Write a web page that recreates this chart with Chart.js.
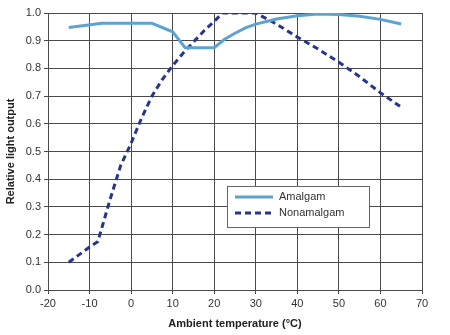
<!DOCTYPE html>
<html><head><meta charset="utf-8">
<script src="https://cdn.jsdelivr.net/npm/chart.js@4"></script>
<style>html,body{margin:0;padding:0;background:#fff}#w{width:450px;height:335px}</style>
</head><body><div id="w"><canvas id="c"></canvas></div>
<script>
const seriesNames = ["Amalgam", "Nonamalgam"];
const amalgamTemp = [-15, -7, 5, 10, 13, 20, 22.5, 25, 27.5, 30, 35, 40, 45, 50, 55, 60, 65];
const amalgamOutput = [0.948, 0.963, 0.963, 0.932, 0.875, 0.875, 0.905, 0.927, 0.946, 0.960, 0.978, 0.990, 0.996, 0.995, 0.988, 0.977, 0.960];
const nonamalgamTemp = [-15, -10, -8, -5, -2.5, 0, 2.5, 5, 7.5, 10, 12.5, 15, 17.5, 20, 22, 30, 35, 40, 45, 50, 55, 60, 65];
const nonamalgamOutput = [0.10, 0.155, 0.175, 0.33, 0.45, 0.53, 0.62, 0.70, 0.76, 0.81, 0.855, 0.895, 0.935, 0.97, 1.0, 1.0, 0.96, 0.913, 0.87, 0.822, 0.77, 0.712, 0.66];
const xTitle = "Ambient temperature (°C)";
const yTitle = "Relative light output";

const toPts = (xs, ys) => xs.map((x, i) => ({x: x, y: ys[i]}));
const gridCol = '#4a4a4a';
const colA = '#5da2d0', colN = '#27358a';

const legendPlugin = {
  id: 'boxLegend',
  afterDraw(chart) {
    const ctx = chart.ctx;
    const x0 = 227, y0 = 186, w = 142, h = 41;
    ctx.save();
    ctx.fillStyle = '#fff';
    ctx.fillRect(x0, y0, w, h);
    ctx.strokeStyle = '#666';
    ctx.lineWidth = 1;
    ctx.strokeRect(x0 + 0.5, y0 + 0.5, w, h);
    const items = chart.data.datasets;
    items.forEach((ds, i) => {
      const yy = y0 + 11 + i * 16;
      ctx.beginPath();
      ctx.strokeStyle = ds.borderColor;
      ctx.lineWidth = 3;
      ctx.setLineDash(ds.borderDash || []);
      ctx.moveTo(235, yy);
      ctx.lineTo(273, yy);
      ctx.stroke();
      ctx.setLineDash([]);
      ctx.fillStyle = '#333';
      ctx.font = '11px "Liberation Sans", Arial, sans-serif';
      ctx.textBaseline = 'middle';
      ctx.fillText(ds.label, 279, yy);
    });
    ctx.restore();
  }
};

new Chart(document.getElementById('c'), {
  type: 'line',
  data: {
    datasets: [
      {label: seriesNames[0], data: toPts(amalgamTemp, amalgamOutput), borderColor: colA, borderWidth: 3, pointRadius: 0, tension: 0, fill: false},
      {label: seriesNames[1], data: toPts(nonamalgamTemp, nonamalgamOutput), borderColor: colN, borderWidth: 3, borderDash: [6, 4], pointRadius: 0, tension: 0, fill: false}
    ]
  },
  options: {
    responsive: true, maintainAspectRatio: false, animation: false,
    layout: {padding: {left: 0, right: 28, top: 13, bottom: 0}},
    plugins: {legend: {display: false}, tooltip: {enabled: false}},
    scales: {
      x: {
        type: 'linear', min: -20, max: 70,
        ticks: {stepSize: 10, color: '#333', font: {family: '"Liberation Sans", Arial, sans-serif', size: 11}, padding: 3},
        grid: {color: gridCol, lineWidth: 1, tickLength: 4, drawTicks: true},
        border: {color: gridCol},
        title: {display: true, text: xTitle, color: '#222', font: {family: '"Liberation Sans", Arial, sans-serif', size: 11, weight: 'bold'}, padding: {top: 6}},
        afterFit(s) { s.height = 45; }
      },
      y: {
        min: 0, max: 1,
        ticks: {stepSize: 0.1, color: '#333', font: {family: '"Liberation Sans", Arial, sans-serif', size: 11}, padding: 3, callback: v => Number(v).toFixed(1)},
        grid: {color: gridCol, lineWidth: 1, tickLength: 4},
        border: {color: gridCol},
        title: {display: true, text: yTitle, color: '#222', font: {family: '"Liberation Sans", Arial, sans-serif', size: 11, weight: 'bold'}, padding: {bottom: 6}},
        afterFit(s) { s.width = 48; }
      }
    }
  },
  plugins: [legendPlugin]
});
</script>
</body></html>
